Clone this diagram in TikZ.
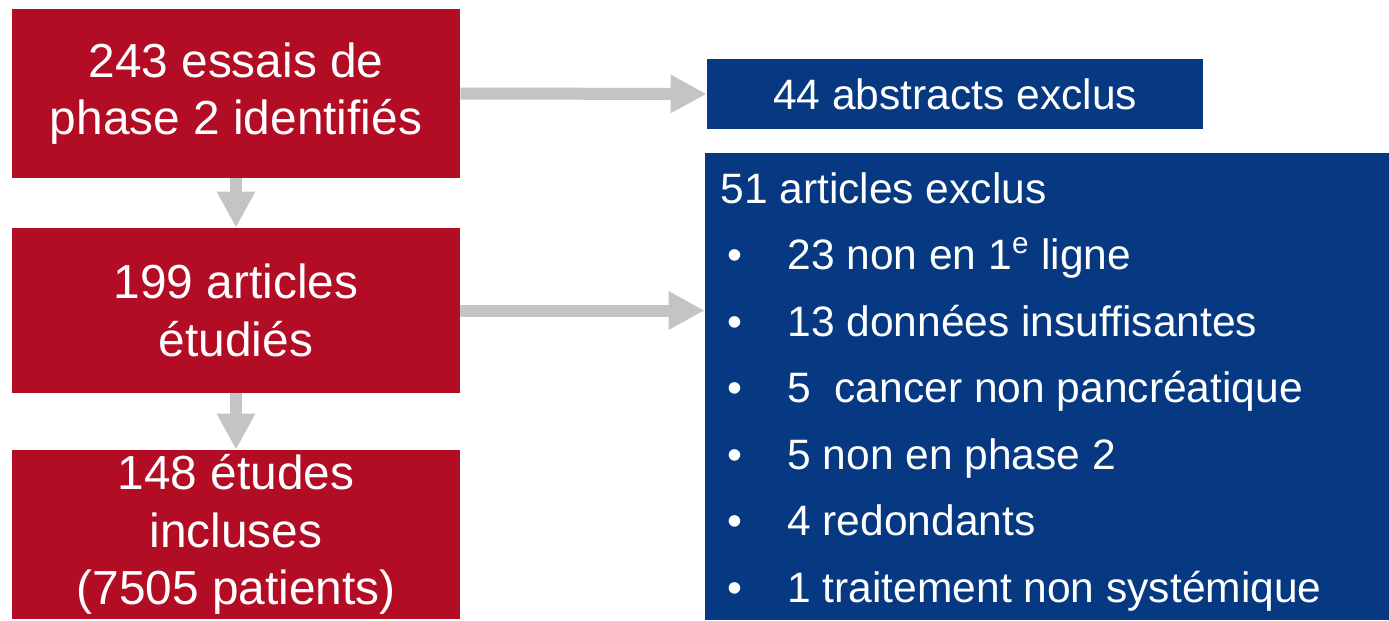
\documentclass[tikz,border=0pt]{standalone}
\usepackage{fontspec}
\setmainfont{Liberation Sans}
\usetikzlibrary{positioning, arrows.meta}

\definecolor{stageRed}{HTML}{B30D26}
\definecolor{exclBlue}{HTML}{073882}
\definecolor{flowGray}{HTML}{C4C4C4}

\begin{document}
\begin{tikzpicture}[
		% Red boxes: the selection steps
		stage/.style={fill=stageRed, text=white, minimum width=8.96cm, inner sep=0pt,
			align=center, font=\fontsize{27.2}{32.6}\selectfont},
		% Blue boxes: what was left out
		excl/.style={fill=exclBlue, text=white, inner sep=0pt, font=\fontsize{24.2}{28}\selectfont},
		item text/.style={text=white, inner sep=0pt, anchor=base west, font=\fontsize{24.2}{28}\selectfont},
		% Thick grey arrows between the boxes
		flow/.style={draw=flowGray, line width=0.24cm, -{Triangle[length=0.72cm, width=0.72cm]}}
		]
		
		\useasboundingbox (0,0) rectangle (27.78,12.4);
		
		% --- 1. Selection steps ---
		\node[stage, minimum height=3.38cm] (ident) at (4.72, 10.53) {243 essais de\\phase 2 identifiés};
		\node[stage, minimum height=3.3cm] (studied) at (4.72, 6.19) {199 articles\\étudiés};
		\node[stage, minimum height=3.38cm] (incl) at (4.72, 1.71) {148 études\\incluses\\(7505 patients)};
		
		% --- 2. Exclusions ---
		\node[excl, minimum width=9.92cm, minimum height=1.4cm] (abstr) at (19.1, 10.52) {44 abstracts exclus};
		\node[excl, minimum width=13.68cm, minimum height=9.34cm] (artic) at (20.94, 4.67) {};
		
		\node[item text] (head) at (14.4, 8.34) {51 articles exclus};
		\foreach \txt [count=\i] in {23 non en 1\textsuperscript{e} ligne, 13 données insuffisantes,
			5~ cancer non pancréatique, 5 non en phase 2, 4 redondants, 1 traitement non systémique} {
			\node[item text] (bul\i) at (14.54, {8.34-1.33*\i}) {\textbullet};
			\node[item text] (item\i) at (15.74, {8.34-1.33*\i}) {\txt};
		}
		
		% --- 3. Arrows ---
		\draw[flow] (ident.south) -- (studied.north);
		\draw[flow] (studied.south) -- (incl.north);
		\draw[flow] (ident.east) -- (abstr.west);
		\draw[flow] (studied.east) -- (studied.east -| artic.west);
		
	\end{tikzpicture}
\end{document}
